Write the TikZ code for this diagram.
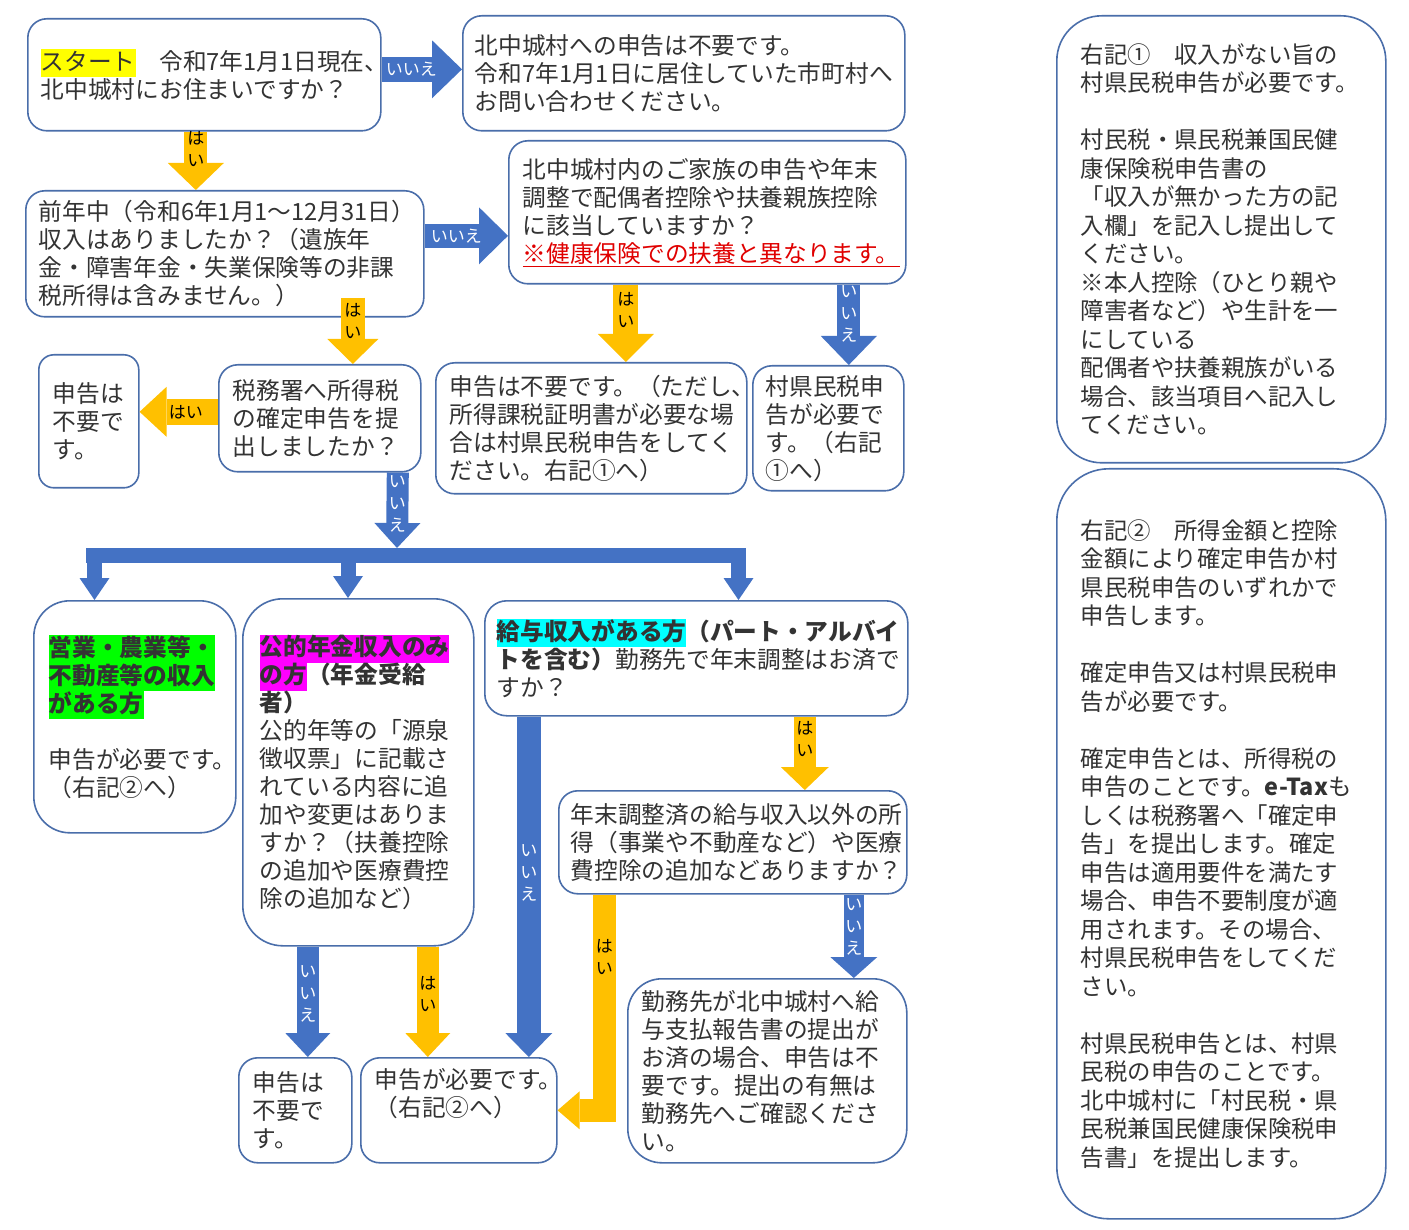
\documentclass[tikz,border=0pt]{standalone}
\usepackage{fontspec}
\setmainfont{Noto Sans CJK JP}
\usetikzlibrary{arrows.meta}

\definecolor{noblue}{HTML}{4472C4}
\definecolor{yesgold}{HTML}{FFC000}
\definecolor{boxline}{HTML}{4A6EAA}
\definecolor{boxtext}{HTML}{333333}
\definecolor{warnred}{HTML}{E00000}
\definecolor{hlyellow}{HTML}{FFFF00}
\definecolor{hlgreen}{HTML}{00FF00}
\definecolor{hlmagenta}{HTML}{FF00FF}
\definecolor{hlcyan}{HTML}{00FFFF}

\newcommand{\hlbox}[2]{{\setlength{\fboxsep}{0pt}\colorbox{#1}{\rule[-7pt]{0pt}{28pt}#2}}}

\begin{document}
\begin{tikzpicture}[x=1pt,y=-1pt,line join=miter,
  flowbox/.style={draw=boxline,line width=1.6pt,fill=white,rounded corners=19pt,
    anchor=north west,align=left,inner xsep=13pt,inner ysep=0pt,text=boxtext,
    font=\fontsize{23.7}{28}\selectfont},
  notebox/.style={flowbox,inner xsep=24pt,font=\fontsize{23.4}{28.5}\selectfont},
  arr/.style n args={3}{line width=#1,-{Triangle[width=#2,length=#3,line width=0pt]}},
  yesarr/.style={draw=yesgold},
  noarr/.style={draw=noblue},
  lbl/.style={font=\fontsize{17}{22}\selectfont,align=center,inner sep=0pt},
  lblw/.style={lbl,text=white}]

  \fill[white] (0,0) rectangle (1409,1230);
  \useasboundingbox (0,0) rectangle (1409,1230);

  % question and answer boxes
  \node[flowbox,text width=327pt,minimum height=112pt] (start) at (27,18)
    {\hlbox{hlyellow}{スタート}　令和7年1月1日現在、\\北中城村にお住まいですか？};
  \node[flowbox,text width=418pt,minimum height=115pt,inner xsep=12pt] (notjoin) at (462,15)
    {北中城村への申告は不要です。\\令和7年1月1日に居住していた市町村へ\\お問い合わせください。};
  \node[flowbox,text width=372pt,minimum height=126pt] (income) at (25,190)
    {前年中（令和6年1月1～12月31日）\\収入はありましたか？（遺族年\\金・障害年金・失業保険等の非課\\税所得は含みません。）};
  \node[flowbox,text width=369pt,minimum height=143pt,inner xsep=14pt] (family) at (508,140)
    {北中城村内のご家族の申告や年末\\調整で配偶者控除や扶養親族控除\\に該当していますか？\\{\color{warnred}\underline{※健康保険での扶養と異なります。}}};
  \node[flowbox,text width=283pt,minimum height=131pt,inner xsep=14pt] (nofile) at (435,362)
    {申告は不要です。（ただし、\\所得課税証明書が必要な場\\合は村県民税申告をしてく\\ださい。右記①へ）};
  \node[flowbox,text width=125pt,minimum height=125pt] (kenmin) at (752,365)
    {村県民税申\\告が必要で\\す。（右記\\①へ）};
  \node[flowbox,text width=174pt,minimum height=107pt,inner xsep=14pt] (taxoff) at (218,364)
    {税務署へ所得税\\の確定申告を提\\出しましたか？};
  \node[flowbox,text width=72pt,minimum height=133pt,inner xsep=14pt,rounded corners=15pt] (filed) at (38,354)
    {申告は\\不要で\\す。};
  \node[flowbox,text width=172pt,minimum height=232pt,inner xsep=15pt,rounded corners=36pt] (business) at (33,600)
    {\textbf{\hlbox{hlgreen}{営業・農業等・}}\\\textbf{\hlbox{hlgreen}{不動産等の収入}}\\\textbf{\hlbox{hlgreen}{がある方}}\\[28pt]申告が必要です。\\（右記②へ）};
  \node[flowbox,text width=197pt,minimum height=347pt,inner xsep=17pt,rounded corners=40pt] (pension) at (242,598)
    {\textbf{\hlbox{hlmagenta}{公的年金収入のみ}}\\\textbf{\hlbox{hlmagenta}{の方}（年金受給}\\\textbf{者）}\\公的年等の「源泉\\徴収票」に記載さ\\れている内容に追\\加や変更はありま\\すか？（扶養控除\\の追加や医療費控\\除の追加など）};
  \node[flowbox,text width=399pt,minimum height=115pt,inner xsep=12pt,rounded corners=22pt] (salary) at (484,600)
    {\textbf{\hlbox{hlcyan}{給与収入がある方}（パート・アルバイ}\\\textbf{トを含む）}勤務先で年末調整はお済で\\すか？};
  \node[flowbox,text width=324pt,minimum height=103pt,inner xsep=12pt] (yearend) at (558,790)
    {年末調整済の給与収入以外の所\\得（事業や不動産など）や医療\\費控除の追加などありますか？};
  \node[flowbox,text width=251pt,minimum height=184pt,inner xsep=14pt,rounded corners=34pt] (employer) at (627,978)
    {勤務先が北中城村へ給\\与支払報告書の提出が\\お済の場合、申告は不\\要です。提出の有無は\\勤務先へご確認くださ\\い。};
  \node[flowbox,text width=85pt,minimum height=105pt,inner xsep=14pt] (nopension) at (238,1057)
    {申告は\\不要で\\す。};
  \node[flowbox,text width=168pt,minimum height=105pt,inner xsep=14pt] (required) at (360,1057)
    {申告が必要です。\\（右記②へ）\\\strut};

  % notes on the right
  \node[notebox,text width=281pt,minimum height=447pt,rounded corners=45pt] (note1) at (1056,15)
    {右記①　収入がない旨の\\村県民税申告が必要です。\\[28.5pt]村民税・県民税兼国民健\\康保険税申告書の\\「収入が無かった方の記\\入欄」を記入し提出して\\ください。\\※本人控除（ひとり親や\\障害者など）や生計を一\\にしている\\配偶者や扶養親族がいる\\場合、該当項目へ記入し\\てください。};
  \node[notebox,text width=281pt,minimum height=750pt,rounded corners=52pt] (note2) at (1056,468)
    {右記②　所得金額と控除\\金額により確定申告か村\\県民税申告のいずれかで\\申告します。\\[28.5pt]確定申告又は村県民税申\\告が必要です。\\[28.5pt]確定申告とは、所得税の\\申告のことです。\textbf{e-Tax}も\\しくは税務署へ「確定申\\告」を提出します。確定\\申告は適用要件を満たす\\場合、申告不要制度が適\\用されます。その場合、\\村県民税申告をしてくだ\\さい。\\[28.5pt]村県民税申告とは、村県\\民税の申告のことです。\\北中城村に「村民税・県\\民税兼国民健康保険税申\\告書」を提出します。};

  % yes / no arrows
  \draw[yesarr,arr={23pt}{56pt}{27pt}] ([xshift=-8.5pt]start.south) coordinate (p) -- (p |- income.north)
    node[lbl,pos=.3] {は\\い};
  \draw[noarr,arr={25pt}{58pt}{30pt}] ([yshift=5.5pt]start.east) coordinate (p) -- (p -| notjoin.west)
    node[lblw,pos=.37] {いいえ};
  \draw[noarr,arr={24pt}{57pt}{29pt}] ([yshift=18pt]income.east) coordinate (p) -- (p -| family.west)
    node[lblw,pos=.38] {いいえ};
  \draw[yesarr,arr={24pt}{51pt}{25pt}] ([xshift=128pt,yshift=20pt]income.south) coordinate (p) -- (p |- taxoff.north)
    node[lbl,pos=.35] {は\\い};
  \draw[yesarr,arr={25pt}{56pt}{28pt}] ([xshift=-81.5pt]family.south) coordinate (p) -- (p |- nofile.north)
    node[lbl,pos=.33] {は\\い};
  \draw[noarr,arr={23pt}{56pt}{29pt}] ([xshift=141.5pt]family.south) coordinate (p) -- (p |- kenmin.north)
    node[lblw,pos=.37] {い\\い\\え};
  \draw[yesarr,arr={26pt}{50pt}{27pt}] ([yshift=6.5pt]taxoff.west) coordinate (p) -- (p -| filed.east)
    node[lbl,pos=.41] {はい};

  % branch to the three kinds of income
  \coordinate (fork) at (397,548);
  \coordinate (barL) at (86,555.5);
  \coordinate (barR) at (746,555.5);
  \coordinate (b1) at (94.5,555.5);
  \coordinate (b2) at (348,555.5);
  \coordinate (b3) at (738.5,555.5);
  \draw[noarr,arr={22pt}{46pt}{25pt}] ([xshift=78pt]taxoff.south) -- (fork)
    node[lblw,pos=.42] {い\\い\\え};
  \draw[noarr,line width=15pt] (barL) -- (barR);
  \draw[noarr,arr={15pt}{30pt}{22pt}] (b1) -- (b1 |- business.north);
  \draw[noarr,arr={15pt}{30pt}{22pt}] (b2) -- (b2 |- pension.north);
  \draw[noarr,arr={15pt}{30pt}{22pt}] (b3) -- (b3 |- salary.north);

  \draw[noarr,arr={24pt}{47pt}{24pt}] ([xshift=-167.5pt]salary.south) coordinate (p) -- (p |- required.north)
    node[lblw,pos=.46] {い\\い\\え};
  \draw[yesarr,arr={22pt}{48pt}{23pt}] ([xshift=108.5pt]salary.south) coordinate (p) -- (p |- yearend.north)
    node[lbl,pos=.31] {は\\い};
  \draw[yesarr,arr={23pt}{38pt}{22pt}] ([xshift=-128.5pt]yearend.south) coordinate (p)
    -- node[lbl,pos=.29] {は\\い} (p |- required.east) -- (required.east);
  \draw[noarr,arr={20pt}{47pt}{21pt}] ([xshift=121pt]yearend.south) coordinate (p) -- (p |- employer.north)
    node[lblw,pos=.39] {い\\い\\え};
  \draw[noarr,arr={22pt}{45pt}{24pt}] ([xshift=-50.5pt]pension.south) coordinate (p) -- (p |- nopension.north)
    node[lblw,pos=.43] {い\\い\\え};
  \draw[yesarr,arr={22pt}{45pt}{24pt}] ([xshift=69.5pt]pension.south) coordinate (p) -- (p |- required.north)
    node[lbl,pos=.43] {は\\い};
\end{tikzpicture}
\end{document}
